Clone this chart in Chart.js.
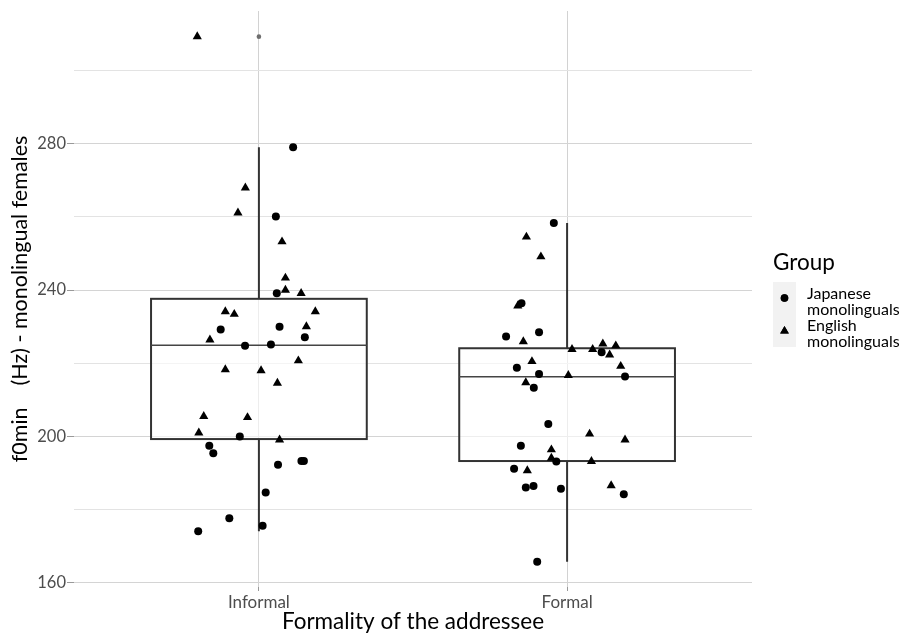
<!DOCTYPE html>
<html>
<head>
<meta charset="utf-8">
<script src="https://cdn.jsdelivr.net/npm/chart.js@4"></script>
<style>
  html, body { margin: 0; padding: 0; background: #fff; }
  #wrap { width: 904px; height: 634px; }
</style>
</head>
<body>
<div id="wrap"><canvas id="boxChart" width="904" height="634"></canvas></div>
<script>
// categories on the x axis
const categories = ['Informal', 'Formal'];
const yMajorTicks = [160, 200, 240, 280];
const yMinorTicks = [180, 220, 260, 300];

// box plot summary (Hz)
const whiskerLow = [174.1, 165.8];
const boxQ1 = [199.3, 193.3];
const boxMedian = [224.9, 216.3];
const boxQ3 = [237.6, 224.1];
const whiskerHigh = [279.0, 258.3];
const outliers = [[309.2], []];

// Japanese monolinguals (circles): values and jitter offsets in category units
const jpInformal = [279.0, 260.1, 239.1, 229.2, 230.0, 227.1, 224.8, 225.1, 200.0, 197.5, 195.4, 192.3, 193.3, 193.3, 184.7, 177.7, 175.6, 174.1];
const jpInformalJitter = [0.111, 0.055, 0.058, -0.124, 0.067, 0.149, -0.045, 0.039, -0.062, -0.161, -0.148, 0.062, 0.138, 0.146, 0.022, -0.096, 0.012, -0.197];
const jpFormal = [258.3, 236.4, 227.3, 228.5, 223.0, 218.8, 217.1, 216.4, 213.3, 203.4, 197.5, 193.2, 191.2, 186.1, 186.5, 185.7, 184.2, 165.8];
const jpFormalJitter = [-0.043, -0.148, -0.198, -0.091, 0.112, -0.163, -0.091, 0.188, -0.108, -0.061, -0.150, -0.035, -0.172, -0.134, -0.109, -0.020, 0.184, -0.097];

// English monolinguals (triangles)
const enInformal = [309.2, 267.9, 261.1, 253.2, 243.3, 240.0, 239.1, 234.1, 233.4, 234.1, 230.0, 226.4, 220.7, 218.3, 218.0, 214.6, 205.5, 205.2, 201.0, 199.1];
const enInformalJitter = [-0.200, -0.044, -0.068, 0.075, 0.086, 0.086, 0.137, -0.109, -0.080, 0.183, 0.154, -0.159, 0.128, -0.109, 0.007, 0.060, -0.179, -0.037, -0.195, 0.067];
const enFormal = [254.5, 249.1, 235.7, 225.9, 223.8, 223.8, 225.3, 224.8, 222.3, 219.2, 220.5, 216.7, 214.7, 200.7, 199.1, 196.4, 194.1, 193.2, 190.7, 186.6];
const enFormalJitter = [-0.132, -0.085, -0.160, -0.142, 0.016, 0.083, 0.116, 0.158, 0.138, 0.174, -0.114, 0.004, -0.134, 0.073, 0.188, -0.051, -0.051, 0.079, -0.129, 0.143];

const FONT = 'Lato, "Open Sans", sans-serif';

function points(vals, jit, cat) {
  return vals.map((v, i) => ({ x: cat + jit[i], y: v }));
}

const outlierPoints = [];
outliers.forEach((arr, i) => arr.forEach(v => outlierPoints.push({ x: i + 1, y: v })));

// draws boxes and whiskers behind the points
const boxPlugin = {
  id: 'boxes',
  beforeDatasetsDraw(chart) {
    const { ctx, scales: { x, y } } = chart;
    ctx.save();
    categories.forEach((c, i) => {
      const cx = x.getPixelForValue(i + 1);
      const left = x.getPixelForValue(i + 1 - 0.35);
      const right = x.getPixelForValue(i + 1 + 0.35);
      const top = y.getPixelForValue(boxQ3[i]);
      const bot = y.getPixelForValue(boxQ1[i]);
      ctx.strokeStyle = '#333';
      ctx.lineWidth = 2;
      ctx.beginPath();
      ctx.moveTo(cx, y.getPixelForValue(whiskerHigh[i]));
      ctx.lineTo(cx, top);
      ctx.moveTo(cx, bot);
      ctx.lineTo(cx, y.getPixelForValue(whiskerLow[i]));
      ctx.stroke();
      ctx.fillStyle = 'rgba(255,255,255,0.6)';
      ctx.fillRect(left, top, right - left, bot - top);
      ctx.strokeRect(left, top, right - left, bot - top);
      const med = y.getPixelForValue(boxMedian[i]);
      ctx.strokeStyle = '#444';
      ctx.lineWidth = 1.6;
      ctx.beginPath();
      ctx.moveTo(left, med);
      ctx.lineTo(right, med);
      ctx.stroke();
    });
    ctx.restore();
  }
};

// ggplot style legend on the right
const legendPlugin = {
  id: 'groupLegend',
  afterDraw(chart) {
    const ctx = chart.ctx;
    ctx.save();
    ctx.fillStyle = '#000';
    ctx.font = '22.5px ' + FONT;
    ctx.textBaseline = 'alphabetic';
    ctx.fillText('Group', 773, 270);
    ctx.fillStyle = '#f2f2f2';
    ctx.fillRect(773, 282, 23, 65);
    ctx.fillStyle = '#000';
    Chart.helpers.drawPoint(ctx, { pointStyle: 'circle', radius: 3.8, borderWidth: 0 }, 784.5, 298);
    ctx.fill();
    ctx.beginPath();
    Chart.helpers.drawPoint(ctx, { pointStyle: 'triangle', radius: 5, borderWidth: 0 }, 784.5, 331);
    ctx.fill();
    ctx.font = '16px ' + FONT;
    ctx.fillText('Japanese', 807, 299);
    ctx.fillText('monolinguals', 807, 315);
    ctx.fillText('English', 807, 331);
    ctx.fillText('monolinguals', 807, 347);
    ctx.restore();
  }
};

new Chart(document.getElementById('boxChart'), {
  type: 'scatter',
  data: {
    datasets: [
      {
        label: 'outliers',
        data: outlierPoints,
        pointStyle: 'circle',
        pointRadius: 2.3,
        backgroundColor: '#6e6e6e',
        borderWidth: 0
      },
      {
        label: 'Japanese monolinguals',
        data: points(jpInformal, jpInformalJitter, 1).concat(points(jpFormal, jpFormalJitter, 2)),
        pointStyle: 'circle',
        pointRadius: 4,
        backgroundColor: '#000',
        borderWidth: 0
      },
      {
        label: 'English monolinguals',
        data: points(enInformal, enInformalJitter, 1).concat(points(enFormal, enFormalJitter, 2)),
        pointStyle: 'triangle',
        pointRadius: 5.3,
        backgroundColor: '#000',
        borderWidth: 0
      }
    ]
  },
  options: {
    responsive: false,
    animation: false,
    layout: { padding: { left: 0, top: 11, right: 152, bottom: 0 } },
    plugins: {
      legend: { display: false },
      tooltip: { enabled: false }
    },
    scales: {
      x: {
        type: 'linear',
        min: 0.4,
        max: 2.6,
        afterBuildTicks: (s) => { s.ticks = categories.map((c, i) => ({ value: i + 1 })); },
        afterFit: (s) => { s.height = 47; },
        border: { display: false },
        grid: { color: '#d2d2d2', lineWidth: 1, tickLength: 4, tickColor: '#999' },
        ticks: {
          autoSkip: false,
          maxRotation: 0,
          padding: 1,
          color: '#4d4d4d',
          font: { family: FONT, size: 17 },
          callback: (v) => categories[v - 1]
        },
        title: {
          display: true,
          text: 'Formality of the addressee',
          color: '#000',
          font: { family: FONT, size: 22.5, lineHeight: 1.1 },
          padding: { top: 0, bottom: 0 }
        }
      },
      y: {
        type: 'linear',
        min: 158.9,
        max: 316.2,
        afterBuildTicks: (s) => {
          s.ticks = yMajorTicks.concat(yMinorTicks).sort((a, b) => a - b).map(v => ({ value: v }));
        },
        afterFit: (s) => { s.width = 74; },
        border: { display: false },
        grid: {
          color: (c) => yMajorTicks.includes(c.tick.value) ? '#d4d4d4' : '#e3e3e3',
          lineWidth: 1,
          tickLength: 7,
          tickColor: (c) => yMajorTicks.includes(c.tick.value) ? '#999' : 'rgba(0,0,0,0)'
        },
        ticks: {
          padding: 1,
          color: '#4d4d4d',
          font: { family: FONT, size: 16.5 },
          callback: (v) => yMajorTicks.includes(v) ? String(v) : ''
        },
        title: {
          display: true,
          text: 'f0min    (Hz) - monolingual females',
          color: '#000',
          font: { family: FONT, size: 21.5, lineHeight: 1.2 },
          padding: { top: 7.5, bottom: 0 }
        }
      }
    }
  },
  plugins: [boxPlugin, legendPlugin]
});
</script>
</body>
</html>
